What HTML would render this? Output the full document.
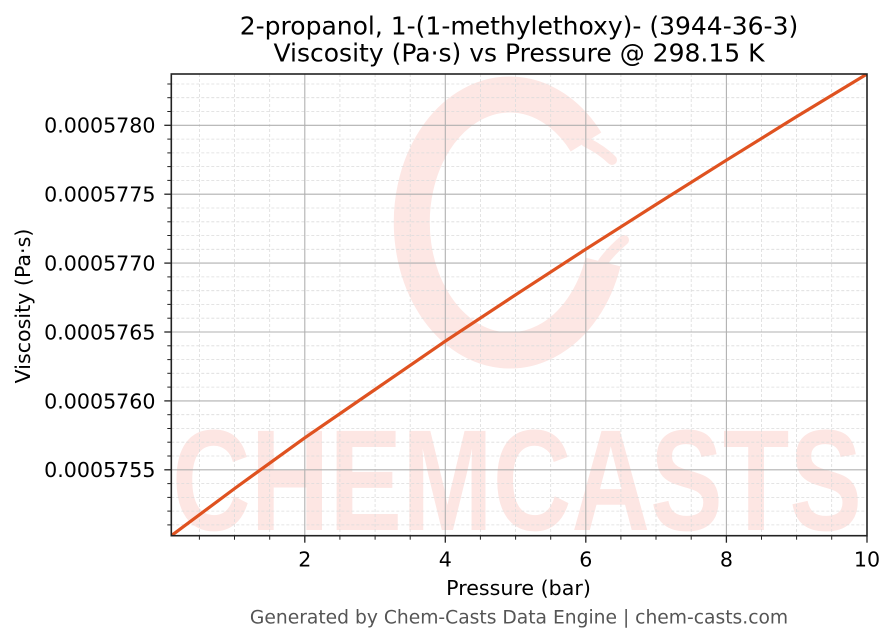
<!DOCTYPE html>
<html>
<head>
<meta charset="utf-8">
<style>
html,body{margin:0;padding:0;background:#fff;}
svg{display:block;}
text{font-family:"DejaVu Sans","Liberation Sans",sans-serif;}
</style>
</head>
<body>
<svg width="896" height="644" viewBox="0 0 896 644" xmlns="http://www.w3.org/2000/svg">
<rect x="0" y="0" width="896" height="644" fill="#fff"/>
<defs>
<clipPath id="pc"><rect x="171.3" y="74" width="695.7" height="461.7"/></clipPath>
</defs>

<g clip-path="url(#pc)">
<path d="M 603 262 A 98 128 0 1 1 586 142" fill="none" stroke="#fde7e4" stroke-width="36" stroke-linecap="butt"/>
<path d="M 586 142 Q 602 150 612 160" fill="none" stroke="#fde7e4" stroke-width="10" stroke-linecap="round"/>
<path d="M 603 262 Q 612 250 624 240" fill="none" stroke="#fde7e4" stroke-width="10" stroke-linecap="round"/>
<text x="172" y="530" font-weight="bold" font-size="144" fill="#fde6e3" textLength="690" lengthAdjust="spacingAndGlyphs" style="font-family:'Liberation Sans',sans-serif">CHEMCASTS</text>
</g>

<g stroke="#dcdcdc" stroke-width="0.8" stroke-dasharray="3,2" fill="none">
<line x1="199.4" y1="74" x2="199.4" y2="535.7"/>
<line x1="234.5" y1="74" x2="234.5" y2="535.7"/>
<line x1="269.7" y1="74" x2="269.7" y2="535.7"/>
<line x1="339.9" y1="74" x2="339.9" y2="535.7"/>
<line x1="375.1" y1="74" x2="375.1" y2="535.7"/>
<line x1="410.2" y1="74" x2="410.2" y2="535.7"/>
<line x1="480.4" y1="74" x2="480.4" y2="535.7"/>
<line x1="515.6" y1="74" x2="515.6" y2="535.7"/>
<line x1="550.7" y1="74" x2="550.7" y2="535.7"/>
<line x1="620.9" y1="74" x2="620.9" y2="535.7"/>
<line x1="656.0" y1="74" x2="656.0" y2="535.7"/>
<line x1="691.2" y1="74" x2="691.2" y2="535.7"/>
<line x1="761.5" y1="74" x2="761.5" y2="535.7"/>
<line x1="796.6" y1="74" x2="796.6" y2="535.7"/>
<line x1="831.7" y1="74" x2="831.7" y2="535.7"/>
<line x1="171.3" y1="84.0" x2="867" y2="84.0"/>
<line x1="171.3" y1="97.7" x2="867" y2="97.7"/>
<line x1="171.3" y1="111.5" x2="867" y2="111.5"/>
<line x1="171.3" y1="139.1" x2="867" y2="139.1"/>
<line x1="171.3" y1="152.9" x2="867" y2="152.9"/>
<line x1="171.3" y1="166.6" x2="867" y2="166.6"/>
<line x1="171.3" y1="180.4" x2="867" y2="180.4"/>
<line x1="171.3" y1="208.0" x2="867" y2="208.0"/>
<line x1="171.3" y1="221.8" x2="867" y2="221.8"/>
<line x1="171.3" y1="235.5" x2="867" y2="235.5"/>
<line x1="171.3" y1="249.3" x2="867" y2="249.3"/>
<line x1="171.3" y1="276.9" x2="867" y2="276.9"/>
<line x1="171.3" y1="290.7" x2="867" y2="290.7"/>
<line x1="171.3" y1="304.4" x2="867" y2="304.4"/>
<line x1="171.3" y1="318.2" x2="867" y2="318.2"/>
<line x1="171.3" y1="345.8" x2="867" y2="345.8"/>
<line x1="171.3" y1="359.6" x2="867" y2="359.6"/>
<line x1="171.3" y1="373.3" x2="867" y2="373.3"/>
<line x1="171.3" y1="387.1" x2="867" y2="387.1"/>
<line x1="171.3" y1="414.7" x2="867" y2="414.7"/>
<line x1="171.3" y1="428.5" x2="867" y2="428.5"/>
<line x1="171.3" y1="442.2" x2="867" y2="442.2"/>
<line x1="171.3" y1="456.0" x2="867" y2="456.0"/>
<line x1="171.3" y1="483.6" x2="867" y2="483.6"/>
<line x1="171.3" y1="497.4" x2="867" y2="497.4"/>
<line x1="171.3" y1="511.1" x2="867" y2="511.1"/>
<line x1="171.3" y1="524.9" x2="867" y2="524.9"/>
</g>

<g stroke="#b0b0b0" stroke-width="1.1" fill="none">
<line x1="304.8" y1="74" x2="304.8" y2="535.7"/>
<line x1="445.3" y1="74" x2="445.3" y2="535.7"/>
<line x1="585.8" y1="74" x2="585.8" y2="535.7"/>
<line x1="726.4" y1="74" x2="726.4" y2="535.7"/>
<line x1="171.3" y1="125.3" x2="867" y2="125.3"/>
<line x1="171.3" y1="194.2" x2="867" y2="194.2"/>
<line x1="171.3" y1="263.1" x2="867" y2="263.1"/>
<line x1="171.3" y1="332.0" x2="867" y2="332.0"/>
<line x1="171.3" y1="400.9" x2="867" y2="400.9"/>
<line x1="171.3" y1="469.8" x2="867" y2="469.8"/>
</g>

<g clip-path="url(#pc)">
<polyline fill="none" stroke="#df5220" stroke-width="3.2" stroke-linejoin="round" stroke-linecap="round" points="171.3,535.7 234.5,488.6 304.8,437.8 375.1,389.5 445.3,341.2 515.6,294.8 585.8,249.2 656.0,204.5 726.4,160.2 796.6,116.6 867,74"/>
</g>

<rect x="171.3" y="74" width="695.7" height="461.7" fill="none" stroke="#222" stroke-width="1.6"/>

<g stroke="#222" stroke-width="1.3">
<line x1="304.8" y1="535.7" x2="304.8" y2="542.7"/>
<line x1="445.3" y1="535.7" x2="445.3" y2="542.7"/>
<line x1="585.8" y1="535.7" x2="585.8" y2="542.7"/>
<line x1="726.4" y1="535.7" x2="726.4" y2="542.7"/>
<line x1="867" y1="535.7" x2="867" y2="542.7"/>
<line x1="164.3" y1="125.3" x2="171.3" y2="125.3"/>
<line x1="164.3" y1="194.2" x2="171.3" y2="194.2"/>
<line x1="164.3" y1="263.1" x2="171.3" y2="263.1"/>
<line x1="164.3" y1="332.0" x2="171.3" y2="332.0"/>
<line x1="164.3" y1="400.9" x2="171.3" y2="400.9"/>
<line x1="164.3" y1="469.8" x2="171.3" y2="469.8"/>
</g>
<g stroke="#222" stroke-width="1">
<line x1="199.4" y1="535.7" x2="199.4" y2="539.7"/>
<line x1="234.5" y1="535.7" x2="234.5" y2="539.7"/>
<line x1="269.7" y1="535.7" x2="269.7" y2="539.7"/>
<line x1="339.9" y1="535.7" x2="339.9" y2="539.7"/>
<line x1="375.1" y1="535.7" x2="375.1" y2="539.7"/>
<line x1="410.2" y1="535.7" x2="410.2" y2="539.7"/>
<line x1="480.4" y1="535.7" x2="480.4" y2="539.7"/>
<line x1="515.6" y1="535.7" x2="515.6" y2="539.7"/>
<line x1="550.7" y1="535.7" x2="550.7" y2="539.7"/>
<line x1="620.9" y1="535.7" x2="620.9" y2="539.7"/>
<line x1="656.0" y1="535.7" x2="656.0" y2="539.7"/>
<line x1="691.2" y1="535.7" x2="691.2" y2="539.7"/>
<line x1="761.5" y1="535.7" x2="761.5" y2="539.7"/>
<line x1="796.6" y1="535.7" x2="796.6" y2="539.7"/>
<line x1="831.7" y1="535.7" x2="831.7" y2="539.7"/>
<line x1="167.3" y1="84.0" x2="171.3" y2="84.0"/>
<line x1="167.3" y1="97.7" x2="171.3" y2="97.7"/>
<line x1="167.3" y1="111.5" x2="171.3" y2="111.5"/>
<line x1="167.3" y1="139.1" x2="171.3" y2="139.1"/>
<line x1="167.3" y1="152.9" x2="171.3" y2="152.9"/>
<line x1="167.3" y1="166.6" x2="171.3" y2="166.6"/>
<line x1="167.3" y1="180.4" x2="171.3" y2="180.4"/>
<line x1="167.3" y1="208.0" x2="171.3" y2="208.0"/>
<line x1="167.3" y1="221.8" x2="171.3" y2="221.8"/>
<line x1="167.3" y1="235.5" x2="171.3" y2="235.5"/>
<line x1="167.3" y1="249.3" x2="171.3" y2="249.3"/>
<line x1="167.3" y1="276.9" x2="171.3" y2="276.9"/>
<line x1="167.3" y1="290.7" x2="171.3" y2="290.7"/>
<line x1="167.3" y1="304.4" x2="171.3" y2="304.4"/>
<line x1="167.3" y1="318.2" x2="171.3" y2="318.2"/>
<line x1="167.3" y1="345.8" x2="171.3" y2="345.8"/>
<line x1="167.3" y1="359.6" x2="171.3" y2="359.6"/>
<line x1="167.3" y1="373.3" x2="171.3" y2="373.3"/>
<line x1="167.3" y1="387.1" x2="171.3" y2="387.1"/>
<line x1="167.3" y1="414.7" x2="171.3" y2="414.7"/>
<line x1="167.3" y1="428.5" x2="171.3" y2="428.5"/>
<line x1="167.3" y1="442.2" x2="171.3" y2="442.2"/>
<line x1="167.3" y1="456.0" x2="171.3" y2="456.0"/>
<line x1="167.3" y1="483.6" x2="171.3" y2="483.6"/>
<line x1="167.3" y1="497.4" x2="171.3" y2="497.4"/>
<line x1="167.3" y1="511.1" x2="171.3" y2="511.1"/>
<line x1="167.3" y1="524.9" x2="171.3" y2="524.9"/>
</g>

<g font-size="20.6" fill="#000" text-anchor="middle">
<text x="304.8" y="566.5">2</text>
<text x="445.3" y="566.5">4</text>
<text x="585.8" y="566.5">6</text>
<text x="726.4" y="566.5">8</text>
<text x="867" y="566.5">10</text>
</g>
<g font-size="20.6" fill="#000" text-anchor="end">
<text x="155.5" y="132.7">0.0005780</text>
<text x="155.5" y="201.6">0.0005775</text>
<text x="155.5" y="270.5">0.0005770</text>
<text x="155.5" y="339.4">0.0005765</text>
<text x="155.5" y="408.3">0.0005760</text>
<text x="155.5" y="477.2">0.0005755</text>
</g>

<text x="518.5" y="595" font-size="20.6" text-anchor="middle" fill="#000">Pressure (bar)</text>
<text transform="translate(30,306) rotate(-90)" font-size="20.6" text-anchor="middle" fill="#000">Viscosity (Pa·s)</text>

<text x="519" y="34.7" font-size="25" text-anchor="middle" fill="#000">2-propanol, 1-(1-methylethoxy)- (3944-36-3)</text>
<text x="519" y="61.3" font-size="25" text-anchor="middle" fill="#000">Viscosity (Pa·s) vs Pressure @ 298.15 K</text>

<text x="519" y="623.3" font-size="18.7" text-anchor="middle" fill="#555">Generated by Chem-Casts Data Engine | chem-casts.com</text>
</svg>
</body>
</html>
